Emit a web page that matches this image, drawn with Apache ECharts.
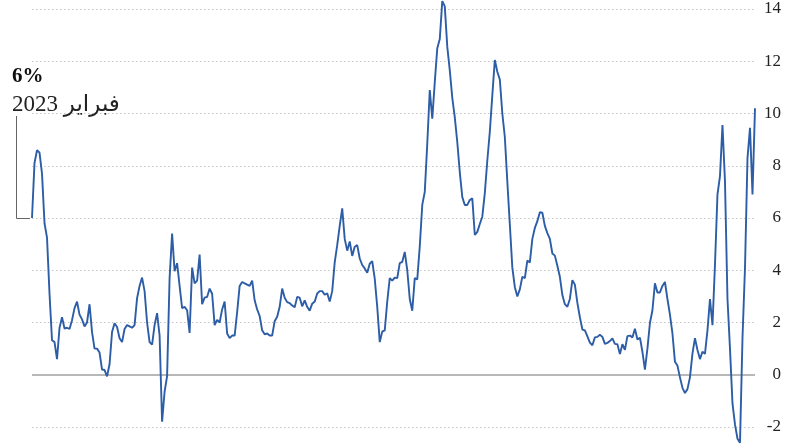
<!DOCTYPE html>
<html>
<head>
<meta charset="utf-8">
<script src="https://cdn.jsdelivr.net/npm/echarts@6/dist/echarts.min.js"></script>
<style>
html,body{margin:0;padding:0;background:#fff;}
#chart{width:792px;height:446px;}
</style>
</head>
<body>
<div id="chart"></div>
<script>
// Series values (evenly spaced periods)
const values = [
  6.0, 8.1, 8.6, 8.5, 7.7, 5.8, 5.25, 3.1, 1.32, 1.25,
  0.6, 1.8, 2.2, 1.77, 1.8, 1.75, 2.09, 2.55, 2.8, 2.3,
  2.12, 1.85, 2.0, 2.7, 1.63, 1.0, 1.0, 0.85, 0.2, 0.18,
  -0.06, 0.4, 1.64, 1.97, 1.83, 1.4, 1.25, 1.75, 1.9, 1.85,
  1.8, 1.9, 2.93, 3.4, 3.72, 3.2, 2.0, 1.25, 1.15, 1.9,
  2.36, 1.5, -1.8, -0.65, -0.05, 3.7, 5.4, 3.96, 4.27, 3.4,
  2.55, 2.6, 2.47, 1.6, 4.1, 3.5, 3.6, 4.6, 2.7, 2.95,
  2.98, 3.3, 3.1, 1.9, 2.1, 2.0, 2.5, 2.8, 1.58, 1.4,
  1.5, 1.5, 2.4, 3.4, 3.55, 3.5, 3.45, 3.4, 3.6, 2.85,
  2.5, 2.25, 1.7, 1.55, 1.58, 1.5, 1.5, 2.05, 2.22, 2.6,
  3.3, 2.95, 2.78, 2.74, 2.65, 2.58, 2.98, 2.95, 2.62, 2.85,
  2.6, 2.45, 2.72, 2.8, 3.11, 3.2, 3.2, 3.06, 3.12, 2.8,
  3.2, 4.3, 4.96, 5.7, 6.37, 5.2, 4.75, 5.1, 4.55, 4.9,
  4.96, 4.45, 4.2, 4.07, 3.9, 4.25, 4.35, 3.68, 2.6, 1.25,
  1.65, 1.7, 2.8, 3.7, 3.6, 3.72, 3.7, 4.27, 4.32, 4.7,
  4.0, 2.9, 2.45, 3.7, 3.65, 4.92, 6.5, 7.0, 8.85, 10.9,
  9.8, 11.2, 12.5, 12.85, 14.3, 14.1, 12.55, 11.65, 10.6, 9.85,
  8.9, 7.75, 6.8, 6.5, 6.5, 6.69, 6.75, 5.35, 5.47, 5.77,
  6.05, 6.95, 8.2, 9.3, 10.7, 12.05, 11.6, 11.3, 10.0, 9.1,
  7.39, 5.75, 4.1, 3.35, 3.0, 3.27, 3.75, 3.7, 4.37, 4.3,
  5.2, 5.62, 5.88, 6.22, 6.2, 5.7, 5.42, 5.2, 4.64, 4.56,
  4.17, 3.75, 3.05, 2.7, 2.6, 2.9, 3.62, 3.45, 2.75, 2.2,
  1.73, 1.7, 1.47, 1.23, 1.13, 1.43, 1.45, 1.53, 1.45, 1.18,
  1.22, 1.29, 1.39, 1.18, 1.17, 0.79, 1.17, 0.95, 1.48, 1.5,
  1.43, 1.76, 1.35, 1.42, 0.88, 0.2, 1.0, 1.98, 2.47, 3.5,
  3.15, 3.15, 3.4, 3.55, 2.9, 2.3, 1.58, 0.5, 0.35, -0.1,
  -0.5, -0.7, -0.55, -0.1, 0.81, 1.4, 0.95, 0.6, 0.88, 0.8,
  1.7, 2.9, 1.9, 4.2, 6.9, 7.6, 9.56, 7.4, 2.9, 1.0,
  -1.1, -1.9, -2.45, -2.6, 1.4, 4.1, 8.3, 9.45, 6.9, 10.2
];
const categories = values.map((v, i) => String(i));
const yMin = -2;
const yMax = 14;
const yStep = 2;
const zeroValue = 0;
const annotationValue = '6%';
const annotationLabel = 'فبراير 2023';
const annotationLevel = 6;

const chart = echarts.init(document.getElementById('chart'), null, {renderer: 'canvas'});
const serif = "'Liberation Serif', 'DejaVu Serif', 'DejaVu Sans', serif";

chart.setOption({
  animation: false,
  backgroundColor: '#ffffff',
  grid: {left: 32, right: 37, top: 9, bottom: 19, containLabel: false},
  xAxis: {
    type: 'category',
    data: categories,
    boundaryGap: false,
    show: false
  },
  yAxis: {
    type: 'value',
    position: 'right',
    min: yMin,
    max: yMax,
    interval: yStep,
    axisLine: {show: false},
    axisTick: {show: false},
    axisLabel: {
      align: 'right',
      margin: 26,
      color: '#222',
      fontFamily: serif,
      fontSize: 17
    },
    splitLine: {
      show: true,
      lineStyle: {color: '#c4c4c4', width: 1, type: [1.5, 2.5]}
    }
  },
  series: [{
    type: 'line',
    data: values,
    showSymbol: false,
    clip: false,
    lineStyle: {color: '#2c5da6', width: 1.9},
    z: 3,
    markLine: {
      silent: true,
      symbol: ['none', 'none'],
      label: {show: false},
      lineStyle: {color: '#b8b8b8', width: 2, type: 'solid'},
      data: [{yAxis: zeroValue}],
      z: 1
    }
  }]
});

const p = chart.convertToPixel({gridIndex: 0}, [0, annotationLevel]);
const py = Math.round(p[1]) + 0.5;
chart.setOption({
  graphic: [
    {
      type: 'text', x: 12, y: 66,
      style: {text: annotationValue, font: "bold 21px 'Liberation Serif', serif", fill: '#111', verticalAlign: 'top'}
    },
    {
      type: 'text', x: 12, y: 93,
      style: {text: annotationLabel, font: "23px 'Liberation Serif', 'DejaVu Sans', serif", fill: '#222', verticalAlign: 'top'}
    },
    {
      type: 'polyline',
      shape: {points: [[16.5, 116], [16.5, py], [p[0] - 2, py]]},
      style: {stroke: '#666', lineWidth: 1, fill: null}
    }
  ]
});
</script>
</body>
</html>
